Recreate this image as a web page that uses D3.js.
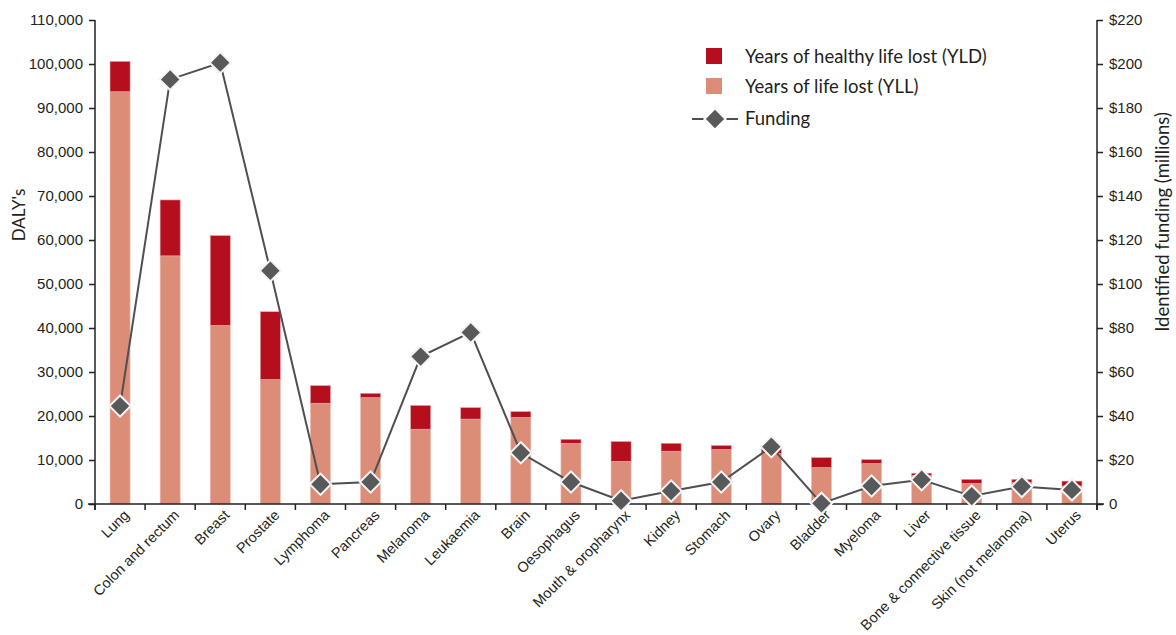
<!DOCTYPE html>
<html>
<head>
<meta charset="utf-8">
<script src="https://cdn.jsdelivr.net/npm/d3@7"></script>
<style>
  html, body { margin: 0; padding: 0; background: #fff; }
  svg { display: block; }
  .tick text { font-family: "Liberation Sans Narrow", "Liberation Sans", sans-serif; font-size: 15px; fill: #231f20; }
  .lbl { font-family: "Liberation Sans Narrow", "Liberation Sans", sans-serif; font-size: 14.5px; fill: #231f20; }
  .legend text, .title { font-family: "Lato", "Open Sans", sans-serif; font-size: 18.5px; fill: #231f20; }
</style>
</head>
<body>
<svg id="chart" width="1176" height="635"></svg>
<script>
const categories = ["Lung","Colon and rectum","Breast","Prostate","Lymphoma","Pancreas","Melanoma","Leukaemia","Brain","Oesophagus","Mouth & oropharynx","Kidney","Stomach","Ovary","Bladder","Myeloma","Liver","Bone & connective tissue","Skin (not melanoma)","Uterus"];
const yll = [93700,56400,40600,28300,22900,24200,17000,19300,19700,13800,9700,12000,12400,11500,8300,9200,6500,4700,4850,4100];
const total = [100600,69100,61000,43700,26900,25150,22400,21900,21000,14700,14200,13800,13300,12600,10550,10100,7000,5600,5600,5200];
const funding = [44.5,193,200.6,106,9,10,67,78,23.3,10,1.5,5.9,10,26,0.3,8.2,11,3.6,7.9,6.4];
const leftTicks = [0,10000,20000,30000,40000,50000,60000,70000,80000,90000,100000,110000];
const rightTicks = [0,20,40,60,80,100,120,140,160,180,200,220];

const svg = d3.select("#chart");
const x0 = 95, x1 = 1097, yTop = 20, yBot = 504;
const x = d3.scaleBand().domain(categories).range([x0, x1]).padding(0);
const yL = d3.scaleLinear().domain([0, 110000]).range([yBot, yTop]);
const yR = d3.scaleLinear().domain([0, 220]).range([yBot, yTop]);
const barW = x.bandwidth() * 0.4;
const cx = d => x(d) + x.bandwidth() / 2;

const colYLL = "#db8d78", colYLD = "#b50e1d", colDia = "#58595b", colLine = "#4f4f51", colAxis = "#231f20";

// bars
const g = svg.append("g");
g.selectAll("rect.yll").data(categories).join("rect")
  .attr("x", d => cx(d) - barW / 2).attr("width", barW)
  .attr("y", (d, i) => yL(yll[i])).attr("height", (d, i) => yL(0) - yL(yll[i]))
  .attr("fill", colYLL).attr("stroke", "#efbfb2").attr("stroke-width", 0.6);
g.selectAll("rect.yld").data(categories).join("rect")
  .attr("x", d => cx(d) - barW / 2).attr("width", barW)
  .attr("y", (d, i) => yL(total[i])).attr("height", (d, i) => yL(yll[i]) - yL(total[i]))
  .attr("fill", colYLD).attr("stroke", "#e9a0a6").attr("stroke-width", 0.6);

// left axis
const axL = svg.append("g").attr("transform", `translate(${x0},0)`)
  .call(d3.axisLeft(yL).tickValues(leftTicks).tickSize(6).tickPadding(6).tickFormat(d3.format(",")));
axL.select(".domain").attr("stroke", colAxis).attr("stroke-width", 1.5).attr("d", `M0,${yTop}V${yBot + 6}`);
axL.selectAll(".tick line").attr("stroke", colAxis).attr("stroke-width", 1.5);

// right axis
const axR = svg.append("g").attr("transform", `translate(${x1},0)`)
  .call(d3.axisRight(yR).tickValues(rightTicks).tickSize(6).tickPadding(6).tickFormat(d => d === 0 ? "0" : "$" + d));
axR.select(".domain").attr("stroke", colAxis).attr("stroke-width", 1.5).attr("d", `M0,${yTop}V${yBot + 6}`);
axR.selectAll(".tick line").attr("stroke", colAxis).attr("stroke-width", 1.5);

// bottom axis
const axB = svg.append("g");
axB.append("line").attr("x1", x0 - 7).attr("x2", x1 + 7).attr("y1", yBot).attr("y2", yBot)
  .attr("stroke", colAxis).attr("stroke-width", 1.5);
const bounds = categories.map(d => x(d)).concat([x1]);
axB.selectAll("line.t").data(bounds).join("line")
  .attr("x1", d => d).attr("x2", d => d).attr("y1", yBot).attr("y2", yBot + 6)
  .attr("stroke", colAxis).attr("stroke-width", 1.5);
axB.selectAll("text").data(categories).join("text")
  .attr("class", "lbl")
  .attr("text-anchor", "end")
  .attr("transform", d => `translate(${cx(d) + 10},${yBot + 12}) rotate(-45)`)
  .text(d => d);

// funding line
const line = d3.line().x(d => cx(d)).y((d, i) => yR(funding[i]));
svg.append("path").datum(categories).attr("d", line)
  .attr("fill", "none").attr("stroke", colLine).attr("stroke-width", 2);
const ds = 15;
svg.selectAll("rect.dia").data(categories).join("rect")
  .attr("width", ds).attr("height", ds).attr("x", -ds / 2).attr("y", -ds / 2)
  .attr("transform", (d, i) => `translate(${cx(d)},${yR(funding[i])}) rotate(45)`)
  .attr("fill", colDia).attr("stroke", "#f4f4f4").attr("stroke-width", 2);

// axis titles
svg.append("text").attr("class", "title").attr("text-anchor", "middle").style("font-size", "17px")
  .attr("transform", "translate(25,215) rotate(-90)").text("DALY's");
svg.append("text").attr("class", "title").attr("text-anchor", "middle")
  .attr("transform", "translate(1169,222) rotate(-90)").text("Identified funding (millions)");

// legend
const lg = svg.append("g").attr("class", "legend");
lg.append("rect").attr("x", 706).attr("y", 48).attr("width", 16).attr("height", 16).attr("fill", colYLD);
lg.append("text").attr("x", 745).attr("y", 63).text("Years of healthy life lost (YLD)");
lg.append("rect").attr("x", 706).attr("y", 78).attr("width", 16).attr("height", 16).attr("fill", colYLL);
lg.append("text").attr("x", 745).attr("y", 93).text("Years of life lost (YLL)");
lg.append("line").attr("x1", 692).attr("x2", 738).attr("y1", 119).attr("y2", 119).attr("stroke", colLine).attr("stroke-width", 2);
lg.append("rect").attr("width", ds).attr("height", ds).attr("x", -ds / 2).attr("y", -ds / 2)
  .attr("transform", "translate(715,119) rotate(45)").attr("fill", colDia).attr("stroke", "#fff").attr("stroke-width", 2);
lg.append("text").attr("x", 745).attr("y", 125).text("Funding");
</script>
</body>
</html>
